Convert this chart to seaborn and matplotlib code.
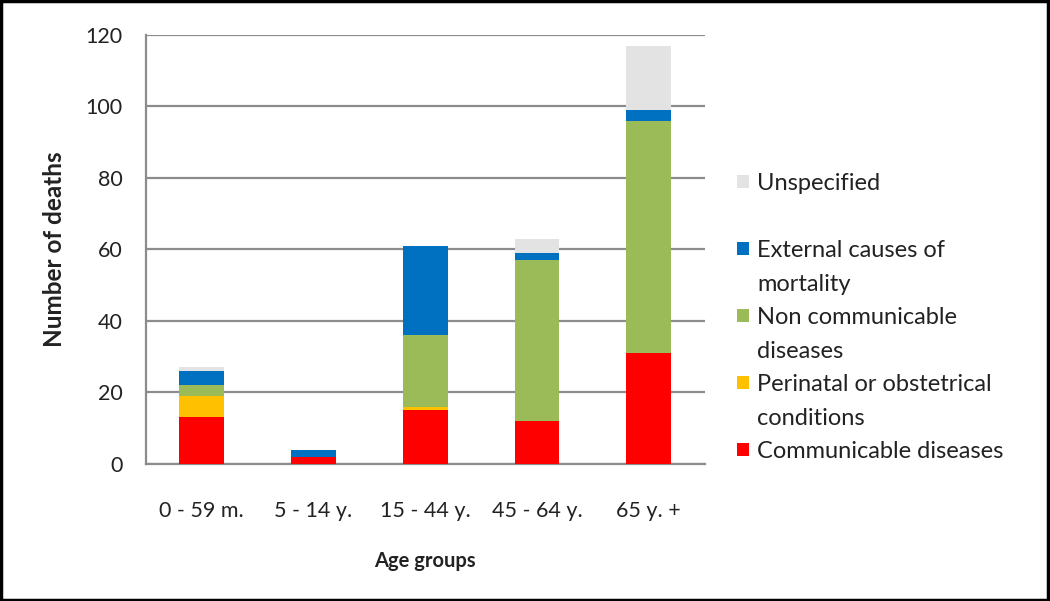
import numpy as np
import pandas as pd
import matplotlib
matplotlib.use("Agg")
import matplotlib.pyplot as plt
from matplotlib.patches import Patch, Rectangle
import seaborn as sns

# data
age_groups = ["0 - 59 m.", "5 - 14 y.", "15 - 44 y.", "45 - 64 y.", "65 y. +"]
communicable = [13, 2, 15, 12, 31]
perinatal = [6, 0, 1, 0, 0]
non_communicable = [3, 0, 20, 45, 65]
external = [4, 2, 25, 2, 3]
unspecified = [1, 0, 0, 4, 18]

series_names = [
    "Communicable diseases",
    "Perinatal or obstetrical conditions",
    "Non communicable diseases",
    "External causes of mortality",
    "Unspecified",
]
# legend text, one list per entry (wrapped like the original)
legend_lines = [
    ["Communicable diseases"],
    ["Perinatal or obstetrical", "conditions"],
    ["Non communicable", "diseases"],
    ["External causes of", "mortality"],
    ["Unspecified", " "],
]
colors = ["#FF0000", "#FFC000", "#9BBB59", "#0070C0", "#E3E3E3"]

df = pd.DataFrame({
    "age": age_groups,
    series_names[0]: communicable,
    series_names[1]: perinatal,
    series_names[2]: non_communicable,
    series_names[3]: external,
    series_names[4]: unspecified,
})
cum = df[series_names].cumsum(axis=1)
cum["age"] = df["age"]

sns.set_style("white")
plt.rcParams["font.family"] = ["Lato", "DejaVu Sans"]

fig = plt.figure(figsize=(10.5, 6.01), dpi=100)
ax = fig.add_axes([0.139, 0.228, 0.532, 0.714])

# stacked bars: draw cumulative totals from top layer down
for name, col in reversed(list(zip(series_names, colors))):
    sns.barplot(data=cum, x="age", y=name, color=col, width=0.4,
                saturation=1, linewidth=0, ax=ax, zorder=3)

ax.set_ylim(0, 120)
ax.set_xlim(-0.5, 4.5)
ax.set_yticks(np.arange(0, 121, 20))
ax.yaxis.grid(True, color="#8C8C8C", linewidth=1.6, zorder=0)
ax.set_axisbelow(True)
for s in ["top", "right"]:
    ax.spines[s].set_visible(False)
for s in ["left", "bottom"]:
    ax.spines[s].set_color("#8C8C8C")
    ax.spines[s].set_linewidth(1.6)

ax.tick_params(axis="y", length=6, color="#8C8C8C", width=1.4,
               labelsize=15.5, pad=11, labelcolor="#222222")
ax.set_xticks(np.arange(-0.5, 5, 1), minor=True)
ax.tick_params(axis="x", which="minor", length=9, color="#8C8C8C", width=1.4)
ax.tick_params(axis="x", which="major", length=0, labelsize=15.5, pad=27,
               labelcolor="#222222")

ax.set_xlabel("Age groups", fontsize=14.5, fontweight="bold", labelpad=21,
              color="#222222")
ax.set_ylabel("Number of deaths", fontsize=17.5, fontweight="bold", labelpad=14,
              color="#222222")

# legend: one row per text line, squares only on the first line of each entry
handles, labels = [], []
for lines, col in reversed(list(zip(legend_lines, colors))):
    for k, line in enumerate(lines):
        handles.append(Patch(facecolor=col if k == 0 else "none", edgecolor="none"))
        labels.append(line)
leg = fig.legend(handles, labels, loc="upper left",
                 bbox_to_anchor=(737 / 1050, 1 - 173 / 601), frameon=False,
                 fontsize=17, handlelength=0.5, handleheight=0.5,
                 handletextpad=0.35, labelspacing=0.53, borderpad=0,
                 borderaxespad=0, labelcolor="#222222")

# outer frame
fig.patches.append(Rectangle((0.001, 0.001), 0.997, 0.997, transform=fig.transFigure,
                             fill=False, edgecolor="black", linewidth=2.5))

fig.savefig("out.png", dpi=100)
